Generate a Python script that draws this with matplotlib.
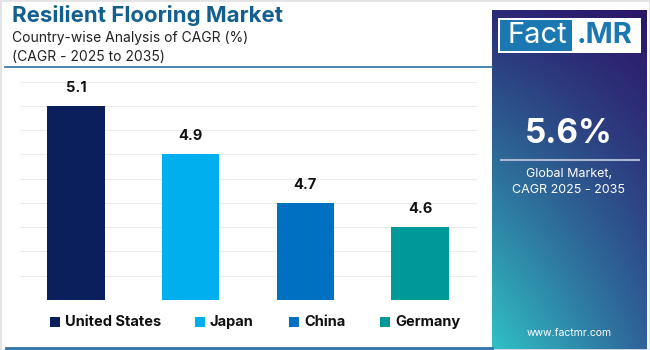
import matplotlib
matplotlib.use("Agg")
import matplotlib.pyplot as plt
import numpy as np
from matplotlib.patches import Rectangle
from matplotlib.lines import Line2D

countries = ["United States", "Japan", "China", "Germany"]
cagr = [5.1, 4.9, 4.7, 4.6]
colors = ["#0a1f5c", "#00b0ee", "#0070c0", "#00999a"]
title = "Resilient Flooring Market"
subtitle1 = "Country-wise Analysis of CAGR (%)"
subtitle2 = "(CAGR - 2025 to 2035)"
global_cagr = "5.6%"
panel_text = "Global Market,\nCAGR 2025 - 2035"
site = "www.factmr.com"

plt.rcParams['font.family'] = ['Inter', 'DejaVu Sans']

W, H = 650, 350
fig = plt.figure(figsize=(6.5, 3.5), dpi=100)
fig.patch.set_facecolor("white")

def fx(x): return x / W
def fy(y): return 1 - y / H

# border
fig.add_artist(Rectangle((0, 0), 1, 1, transform=fig.transFigure, fill=False,
                         edgecolor="#e3e3e3", linewidth=2))

# Title block
fig.text(fx(12), fy(16), title, fontsize=16, fontweight="bold", color="#135f8f",
         va="center", ha="left")
fig.text(fx(12), fy(38), subtitle1, fontsize=10, color="#222222", va="center", ha="left")
fig.text(fx(12), fy(57), subtitle2, fontsize=10, color="#222222", va="center", ha="left")
fig.add_artist(Line2D([fx(5), fx(492)], [fy(67), fy(67)], transform=fig.transFigure,
                      color="#2a6fa0", linewidth=1.2))
fig.add_artist(Line2D([fx(6), fx(492)], [fy(348), fy(348)], transform=fig.transFigure,
                      color="#2f72a8", linewidth=2))

# Bar chart
ax = fig.add_axes([fx(20), fy(300), fx(477) - fx(20), fy(81.7) - fy(300)])
x = np.arange(len(countries))
ax.bar(x, cagr, width=0.5, color=colors, zorder=3)
ax.set_ylim(4.3, 5.2)
ax.set_xlim(-0.487, 3.497)
ax.set_yticks(np.arange(4.3, 5.21, 0.1))
ax.yaxis.grid(True, color="#ececec", linewidth=0.8, zorder=0)
ax.tick_params(left=False, bottom=False, labelleft=False, labelbottom=False)
for s in ax.spines.values():
    s.set_visible(False)
for xi, v in zip(x, cagr):
    ax.annotate(f"{v}", (xi, v), xytext=(0, 8), textcoords="offset points",
                ha="center", va="bottom", fontsize=10.5, fontweight="bold", color="#111111")

# Legend
leg_x = [50, 195, 289, 380]
for lx, c, name in zip(leg_x, colors, countries):
    fig.add_artist(Rectangle((fx(lx), fy(327)), fx(10) , 10 / H, transform=fig.transFigure,
                             facecolor=c, edgecolor="none"))
    fig.text(fx(lx + 15), fy(322), name, fontsize=10.5, fontweight="bold", color="#111111",
             va="center", ha="left")

# Right panel gradient
pax = fig.add_axes([fx(492), fy(350), fx(647) - fx(492), fy(10) - fy(350)])
def hex2rgb(h):
    h = h.lstrip("#")
    return np.array([int(h[i:i + 2], 16) / 255 for i in (0, 2, 4)])
TL, TR, BL, BR = map(hex2rgb, ["#2b2a76", "#2c1567", "#30c2c6", "#2e6399"])
ny, nx = 200, 100
u = np.linspace(0, 1, nx)[None, :, None]
v = np.linspace(0, 1, ny)[:, None, None]
img = (1 - v) * ((1 - u) * TL + u * TR) + v * ((1 - u) * BL + u * BR)
pax.imshow(img, aspect="auto", extent=[0, 1, 1, 0], interpolation="bilinear")
pax.set_xlim(0, 1); pax.set_ylim(1, 0)
pax.axis("off")

# Logo
fig.add_artist(Rectangle((fx(498), fy(53)), fx(641) - fx(498), 35 / H, transform=fig.transFigure,
                         facecolor="white", edgecolor="none"))
fig.add_artist(Rectangle((fx(500), fy(51)), fx(572) - fx(500), 31 / H, transform=fig.transFigure,
                         facecolor="#1b78b0", edgecolor="none"))
fig.text(fx(537), fy(35.5), "Fact", fontsize=21, color="white", ha="center", va="center")
fig.text(fx(605), fy(35.5), ".MR", fontsize=21, fontweight="bold", color="#1b78b0",
         ha="center", va="center")

# Panel texts
fig.text(fx(569), fy(134), global_cagr, fontsize=24, fontweight="bold", color="white",
         ha="center", va="center")
fig.add_artist(Line2D([fx(501), fx(639)], [fy(160), fy(160)], transform=fig.transFigure,
                      color="#a9b6d6", linewidth=1.5))
fig.text(fx(569), fy(182), panel_text, fontsize=9, color="white", ha="center", va="center",
         linespacing=1.5)
fig.text(fx(569), fy(333), site, fontsize=7.5, color="white", ha="center", va="center")

fig.savefig("out.png", dpi=100, facecolor="white")
